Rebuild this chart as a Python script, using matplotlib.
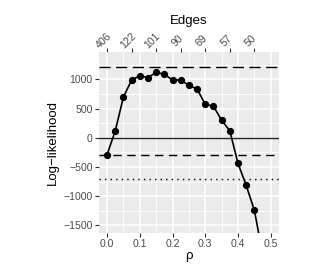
import matplotlib
matplotlib.use('Agg')
import matplotlib.pyplot as plt
from matplotlib.ticker import MultipleLocator, FixedLocator

plt.rcParams['font.family'] = ['Liberation Sans', 'DejaVu Sans']

# profile log-likelihood over rho
rho = [0.0, 0.025, 0.05, 0.075, 0.1, 0.125, 0.15, 0.175, 0.2, 0.225,
       0.25, 0.275, 0.3, 0.325, 0.35, 0.375, 0.4, 0.425, 0.45, 0.475, 0.5]
loglik = [-290, 120, 697, 988, 1062, 1028, 1120, 1085, 990, 988,
          897, 834, 571, 543, 298, 120, -438, -815, -1243, -1980, -2700]

# reference lines
upper_ref = 1215
lower_ref = -290
dotted_ref = -700

# secondary axis: number of edges
edge_pos = [0.0, 0.075, 0.15, 0.225, 0.3, 0.375, 0.45]
edge_lab = ['406', '122', '101', '90', '69', '57', '50']

fig = plt.figure(figsize=(3.18, 2.73), dpi=100)
ax = fig.add_axes([0.311, 0.148, 0.566, 0.663])
ax.set_facecolor('#EBEBEB')
for s in ax.spines.values():
    s.set_visible(False)

ax.xaxis.set_major_locator(MultipleLocator(0.1))
ax.xaxis.set_minor_locator(MultipleLocator(0.05))
ax.yaxis.set_major_locator(MultipleLocator(500))
ax.yaxis.set_minor_locator(MultipleLocator(250))
ax.grid(which='major', color='white', lw=1.1)
ax.grid(which='minor', color='white', lw=0.6)
ax.set_axisbelow(True)
ax.tick_params(which='minor', length=0)
ax.tick_params(which='major', length=3, width=0.8, color='#333333',
               labelcolor='#4D4D4D', labelsize=7.6, pad=1.5)

ax.axhline(0, color='#222222', lw=1.0)
ax.axhline(upper_ref, color='black', lw=1.0, ls=(0, (8, 4)))
ax.axhline(lower_ref, color='black', lw=1.0, ls=(0, (6, 4)))
ax.axhline(dotted_ref, color='black', lw=1.0, ls=(0, (1, 3)))

ax.plot(rho, loglik, color='black', lw=1.2, marker='o', ms=4.2)

ax.set_xlim(-0.025, 0.525)
ax.set_ylim(-1625, 1475)
ax.set_xticklabels([f'{v:.1f}' for v in ax.get_xticks()])
ax.set_xlabel('ρ', fontsize=9.5, labelpad=1)
ax.set_ylabel('Log\u2212likelihood', fontsize=9.5, labelpad=3)
ax.yaxis.set_major_formatter(matplotlib.ticker.FuncFormatter(
    lambda v, p: f'{int(v)}'.replace('-', '\u2212')))

top = ax.secondary_xaxis('top')
top.xaxis.set_major_locator(FixedLocator(edge_pos))
top.set_xticklabels(edge_lab, rotation=45, ha='center', va='bottom',
                    rotation_mode='anchor')
top.tick_params(length=3, width=0.8, color='#333333', labelcolor='#4D4D4D',
                labelsize=7.6, pad=2.5)
for s in top.spines.values():
    s.set_visible(False)
top.set_xlabel('Edges', fontsize=9.5, labelpad=5)

fig.savefig('out.png', dpi=100)
